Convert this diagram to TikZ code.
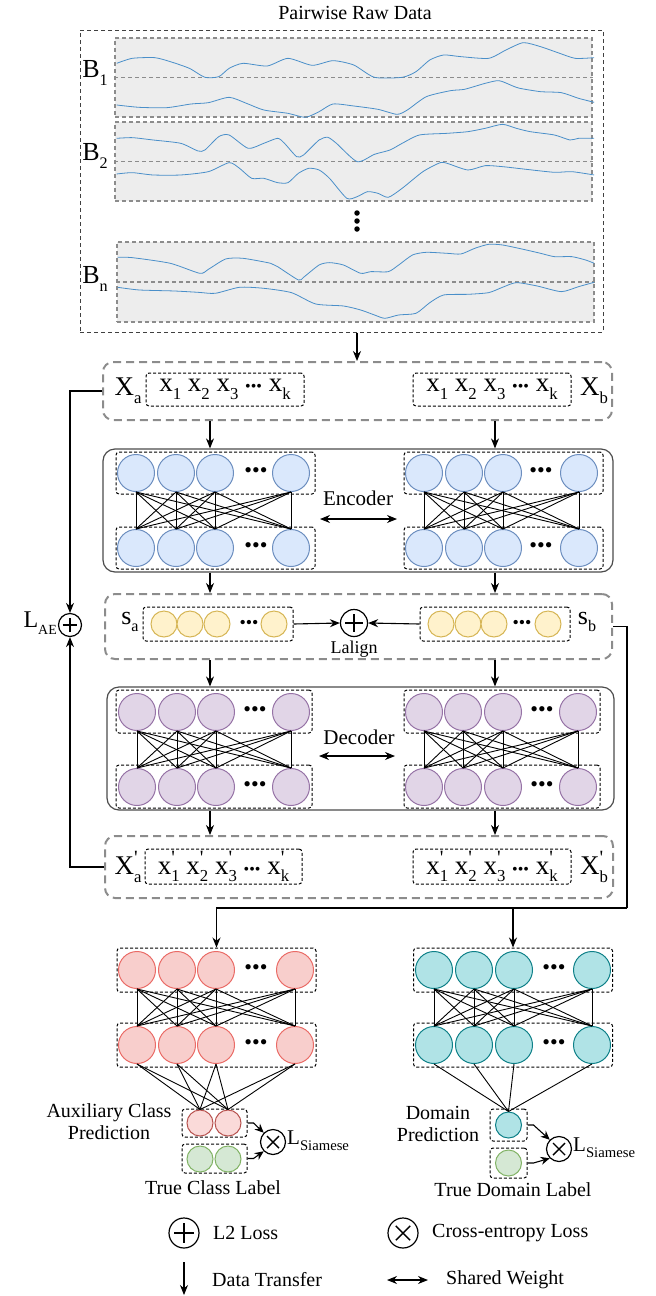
\documentclass[tikz,border=0pt]{standalone}
\usepackage{fontspec}
\setmainfont{Liberation Serif}
\usetikzlibrary{arrows.meta}
\definecolor{encfill}{HTML}{DAE8FC}
\definecolor{encline}{HTML}{6C8EBF}
\definecolor{latfill}{HTML}{FFF2CC}
\definecolor{latline}{HTML}{D6B656}
\definecolor{decfill}{HTML}{E1D5E7}
\definecolor{decline}{HTML}{9673A6}
\definecolor{clsfill}{HTML}{F8CECC}
\definecolor{clsline}{HTML}{EA6B66}
\definecolor{prdline}{HTML}{B85450}
\definecolor{domfill}{HTML}{B0E3E6}
\definecolor{domline}{HTML}{0E8088}
\definecolor{gtfill}{HTML}{D5E8D4}
\definecolor{gtline}{HTML}{82B366}
\definecolor{wavec}{HTML}{4A8FC9}
\definecolor{panel}{HTML}{EDEDED}
\newcommand\lowsub[2][0.62]{\raisebox{-0.28em}{\scalebox{#1}{#2}}}
\newcommand\primetick{\rlap{\raisebox{0.36em}{\scalebox{0.75}{\textquotesingle}}}}
\newcommand\mdots{{\fontsize{16}{16}\selectfont\textbullet\textbullet\textbullet}}
\tikzset{
  flow/.style={-{Stealth[length=10pt,width=8pt]},line width=1.1pt},
  shared/.style={{Stealth[length=10pt,width=8pt]}-{Stealth[length=10pt,width=8pt]},line width=1.1pt},
  wire/.style={line width=0.9pt},
  wave/.style={wavec,line width=0.8pt},
  rawbox/.style={draw=black!75,dash pattern=on 4pt off 3pt,line width=1pt,inner sep=0pt},
  bbox/.style={draw=black!45,fill=panel,dash pattern=on 4pt off 3pt,line width=1.2pt,inner sep=0pt},
  pairbox/.style={draw=black!45,dash pattern=on 8pt off 5pt,line width=2pt,rounded corners=10pt,inner sep=0pt},
  netbox/.style={draw=black!70,line width=1.2pt,rounded corners=12pt,inner sep=0pt},
  grp/.style={draw,dash pattern=on 3pt off 2pt,line width=1pt,rounded corners=3pt,inner sep=0pt},
  neuron/.style={circle,line width=1pt,minimum size=37pt,inner sep=0pt},
  encn/.style={neuron,fill=encfill,draw=encline},
  latn/.style={neuron,minimum size=26pt,fill=latfill,draw=latline},
  decn/.style={neuron,fill=decfill,draw=decline},
  clsn/.style={neuron,fill=clsfill,draw=clsline},
  domn/.style={neuron,fill=domfill,draw=domline},
  prdn/.style={neuron,minimum size=26pt,fill=clsfill!75!white,draw=prdline},
  dprn/.style={neuron,minimum size=26pt,fill=domfill,draw=domline},
  gtn/.style={neuron,minimum size=26pt,fill=gtfill,draw=gtline},
  dotrow/.style={font=\fontsize{22}{22}\selectfont,inner sep=0pt},
  bigtxt/.style={font=\fontsize{27}{29}\selectfont,inner sep=0pt},
  midtxt/.style={font=\fontsize{20}{22}\selectfont,inner sep=0pt,align=center},
  plusnode/.style={circle,draw,line width=1.2pt,minimum size=#1pt,inner sep=0pt,
    path picture={\draw[line width=1.4pt]
      ([xshift=-0.32*#1pt]path picture bounding box.center) -- ([xshift=0.32*#1pt]path picture bounding box.center)
      ([yshift=-0.32*#1pt]path picture bounding box.center) -- ([yshift=0.32*#1pt]path picture bounding box.center);}},
  crossnode/.style={circle,draw,line width=1.2pt,minimum size=#1pt,inner sep=0pt,
    path picture={\draw[line width=1.4pt]
      ([shift={(-0.24*#1pt,-0.24*#1pt)}]path picture bounding box.center) -- ([shift={(0.24*#1pt,0.24*#1pt)}]path picture bounding box.center)
      ([shift={(-0.24*#1pt,0.24*#1pt)}]path picture bounding box.center) -- ([shift={(0.24*#1pt,-0.24*#1pt)}]path picture bounding box.center);}}
}
\begin{document}
\begin{tikzpicture}[x=1pt,y=-1pt]
% pairwise raw data -> siamese autoencoder -> class / domain heads
\useasboundingbox (0,0) rectangle (656,1296);
\node[font=\fontsize{20}{22}\selectfont] (title) at (355,13) {Pairwise Raw Data};
\node[rawbox,minimum width=523pt,minimum height=302pt] (raw) at (341.5,181) {};
\node[bbox,minimum width=477pt,minimum height=79pt] (b1) at (353.5,77.5) {};
\node[bbox,minimum width=477pt,minimum height=79pt] (b2) at (353.5,161.5) {};
\node[bbox,minimum width=477pt,minimum height=80pt] (bn) at (355.5,282) {};
\foreach \bx in {b1,b2,bn}
  \draw[draw=black!45,dash pattern=on 4pt off 3pt,line width=1.2pt] (\bx.west) -- (\bx.east);
\node[bigtxt,font=\fontsize{26}{28}\selectfont] (lb1) at (95,73) {B\lowsub{1}};
\node[bigtxt,font=\fontsize{26}{28}\selectfont] (lb2) at (95,156) {B\lowsub{2}};
\node[bigtxt,font=\fontsize{26}{28}\selectfont] (lbn) at (95,279) {B\lowsub{n}};
\begin{scope}[shift={(70,0)},x=0.346pt,y=-0.3333pt]
\draw[wave] plot[smooth,tension=0.4] coordinates {(135,190) (180,175) (245,173) (290,185) (345,205) (390,232) (430,230) (460,205) (500,190) (570,198) (630,175) (700,196) (760,182) (820,195) (880,232) (960,232) (1000,215) (1040,180) (1080,165) (1130,170) (1210,175) (1260,150) (1310,128) (1360,140) (1410,158) (1460,175) (1515,173)};
\draw[wave] plot[smooth,tension=0.4] coordinates {(135,315) (200,322) (280,323) (350,312) (400,308) (460,292) (510,310) (560,330) (630,340) (680,352) (720,335) (760,312) (820,318) (890,328) (945,343) (975,330) (1030,290) (1100,272) (1140,268) (1200,250) (1240,242) (1280,258) (1300,265) (1360,275) (1420,278) (1470,295) (1515,307)};
\draw[wave] plot[smooth,tension=0.4] coordinates {(135,415) (180,413) (240,420) (320,430) (370,453) (390,450) (430,410) (460,405) (515,445) (560,430) (600,415) (620,430) (655,470) (675,465) (720,420) (745,412) (770,430) (830,485) (880,463) (925,450) (960,430) (1010,405) (1090,400) (1150,395) (1200,385) (1250,373) (1290,385) (1330,395) (1400,405) (1445,420) (1470,415) (1515,415)};
\draw[wave] plot[smooth,tension=0.4] coordinates {(135,522) (180,518) (240,525) (320,525) (400,515) (460,488) (490,505) (525,535) (560,535) (600,548) (630,548) (660,520) (690,505) (720,510) (750,535) (800,595) (830,590) (860,575) (890,580) (920,592) (960,565) (1020,515) (1070,488) (1090,490) (1150,510) (1200,497) (1250,500) (1310,507) (1400,517) (1450,515) (1515,525)};
\draw[wave] plot[smooth,tension=0.4] coordinates {(138,772) (180,773) (290,790) (375,820) (400,808) (450,777) (500,775) (580,790) (600,800) (660,840) (675,832) (720,795) (750,788) (790,795) (840,820) (870,815) (920,815) (950,795) (990,765) (1030,757) (1090,760) (1130,762) (1170,745) (1210,733) (1250,735) (1310,748) (1360,760) (1400,770) (1450,770) (1490,780) (1515,790)};
\draw[wave] plot[smooth,tension=0.4] coordinates {(138,862) (200,870) (300,873) (370,877) (420,880) (490,862) (560,865) (640,878) (710,912) (790,918) (840,930) (880,945) (910,955) (950,945) (1000,940) (1040,908) (1080,885) (1150,883) (1210,878) (1250,862) (1290,848) (1350,858) (1420,875) (1470,860) (1515,847)};
\end{scope}
\foreach \k/\y in {1/213,2/221,3/229}
  \node[circle,fill,inner sep=0pt,minimum size=5.5pt] (vd\k) at (357,\y) {};
\coordinate (laneA) at (210,0);
\coordinate (laneB) at (495,0);
% input pair
\node[pairbox,minimum width=509pt,minimum height=58pt] (xin) at (357.5,391) {};
\node[bigtxt] (xa) at (128,391) {X\lowsub{a}};
\node[grp,bigtxt,minimum width=158pt,minimum height=33pt] (xain) at (225,389.5) {x\lowsub{1} x\lowsub{2} x\lowsub{3} \mdots{} x\lowsub{k}};
\node[grp,bigtxt,minimum width=158pt,minimum height=33pt] (xbin) at (492,389.5) {x\lowsub{1} x\lowsub{2} x\lowsub{3} \mdots{} x\lowsub{k}};
\node[bigtxt] (xb) at (594,391) {X\lowsub{b}};
\draw[flow] (raw.south -| vd2) -- (xin.north -| vd2);
% encoder
\node[netbox,minimum width=510pt,minimum height=123pt] (enc) at (358,510.5) {};
\foreach \g/\cx/\cy in {eau/215.5/473,ead/215.5/548,ebu/503.5/473,ebd/503.5/548}
  \node[grp,minimum width=199pt,minimum height=42pt] (\g) at (\cx,\cy) {};
\foreach \g/\y in {eau/473,ead/548} {
  \foreach \i/\x in {1/136,2/176,3/215,4/291} \node[encn] (\g\i) at (\x,\y) {};
  \node[dotrow] (\g d) at (256,\y) {\textbullet\textbullet\textbullet};
}
\foreach \g/\y in {ebu/473,ebd/548} {
  \foreach \i/\x in {1/424,2/464,3/503,4/579} \node[encn] (\g\i) at (\x,\y) {};
  \node[dotrow] (\g d) at (541,\y) {\textbullet\textbullet\textbullet};
}
\foreach \i in {1,...,4} \foreach \j in {1,...,4} {
  \draw[wire] (eau\i.south) -- (ead\j.north);
  \draw[wire] (ebu\i.south) -- (ebd\j.north);
}
\node[midtxt,font=\fontsize{21}{23}\selectfont] (enclbl) at (358,498) {Encoder};
\coordinate (encL) at (320,519);
\coordinate (encR) at (397,519);
\draw[shared] (encL) -- (encR);
\draw[flow] (xin.south -| laneA) -- (enc.north -| laneA);
\draw[flow] (xin.south -| laneB) -- (enc.north -| laneB);
% latent pair
\node[pairbox,minimum width=507pt,minimum height=65pt] (sbx) at (358.5,626.5) {};
\node[bigtxt,font=\fontsize{26}{28}\selectfont] (sa) at (130,622) {s\lowsub{a}};
\node[grp,minimum width=150pt,minimum height=34pt] (sain) at (218,624) {};
\foreach \i/\x in {1/164,2/190,3/217,4/274} \node[latn] (sa\i) at (\x,624) {};
\node[dotrow,font=\fontsize{18}{18}\selectfont] (sad) at (249,624) {\textbullet\textbullet\textbullet};
\node[grp,minimum width=150pt,minimum height=34pt] (sbin) at (495,624) {};
\foreach \i/\x in {1/441,2/468,3/494,4/548} \node[latn] (sb\i) at (\x,624) {};
\node[dotrow,font=\fontsize{18}{18}\selectfont] (sbd) at (522,624) {\textbullet\textbullet\textbullet};
\node[bigtxt,font=\fontsize{26}{28}\selectfont] (sb) at (587,622) {s\lowsub{b}};
\node[plusnode=27] (align) at (354,623) {};
\node[midtxt,font=\fontsize{18}{20}\selectfont] (alignlbl) at (354,649) {Lalign};
\draw[flow] (sain.east) -- (align.west);
\draw[flow] (sbin.west) -- (align.east);
\draw[flow] (enc.south -| laneA) -- (sbx.north -| laneA);
\draw[flow] (enc.south -| laneB) -- (sbx.north -| laneB);
% decoder
\node[netbox,minimum width=507pt,minimum height=123pt] (dec) at (360.5,748.5) {};
\foreach \g/\cx/\cy in {dau/214/711.5,dad/214/786.5,dbu/502/711.5,dbd/502/786.5}
  \node[grp,minimum width=196pt,minimum height=43pt] (\g) at (\cx,\cy) {};
\foreach \g/\y in {dau/712,dad/787} {
  \foreach \i/\x in {1/137,2/177,3/216,4/291} \node[decn] (\g\i) at (\x,\y) {};
  \node[dotrow] (\g d) at (255,\y) {\textbullet\textbullet\textbullet};
}
\foreach \g/\y in {dbu/712,dbd/787} {
  \foreach \i/\x in {1/424,2/463,3/503,4/578} \node[decn] (\g\i) at (\x,\y) {};
  \node[dotrow] (\g d) at (542,\y) {\textbullet\textbullet\textbullet};
}
\foreach \i in {1,...,4} \foreach \j in {1,...,4} {
  \draw[wire] (dau\i.south) -- (dad\j.north);
  \draw[wire] (dbu\i.south) -- (dbd\j.north);
}
\node[midtxt,font=\fontsize{21}{23}\selectfont] (declbl) at (359,737) {Decoder};
\coordinate (decL) at (319,756);
\coordinate (decR) at (395,756);
\draw[shared] (decL) -- (decR);
\draw[flow] (sbx.south -| laneA) -- (dec.north -| laneA);
\draw[flow] (sbx.south -| laneB) -- (dec.north -| laneB);
% reconstructed pair
\node[pairbox,minimum width=508pt,minimum height=62pt] (xout) at (359,867) {};
\node[bigtxt] (xpa) at (128,867) {X\primetick\lowsub{a}};
\node[grp,bigtxt,minimum width=157pt,minimum height=35pt] (xpain) at (223.5,866.5) {x\primetick\lowsub{1} x\primetick\lowsub{2} x\primetick\lowsub{3} \mdots{} x\primetick\lowsub{k}};
\node[grp,bigtxt,minimum width=158pt,minimum height=35pt] (xpbin) at (492,866.5) {x\primetick\lowsub{1} x\primetick\lowsub{2} x\primetick\lowsub{3} \mdots{} x\primetick\lowsub{k}};
\node[bigtxt] (xpb) at (594,867) {X\primetick\lowsub{b}};
\draw[flow] (dec.south -| laneA) -- (xout.north -| laneA);
\draw[flow] (dec.south -| laneB) -- (xout.north -| laneB);
% reconstruction loss
\node[plusnode=23] (lae) at (70,625) {};
\node[font=\fontsize{24}{26}\selectfont,inner sep=0pt,anchor=east] (laelbl) at (57,623) {L\lowsub[0.58]{AE}};
\draw[flow] (xin.west) -| (lae.north);
\draw[flow] (xout.west) -| (lae.south);
% class and domain heads
\foreach \g/\cx/\cy in {rau/216.5/970,rad/216.5/1045,tau/513/970,tad/513/1045}
  \node[grp,minimum width=199pt,minimum height=44pt] (\g) at (\cx,\cy) {};
\foreach \g/\y in {rau/970,rad/1045} {
  \foreach \i/\x in {1/137,2/177,3/216,4/295} \node[clsn] (\g\i) at (\x,\y) {};
  \node[dotrow] (\g d) at (256,\y) {\textbullet\textbullet\textbullet};
}
\foreach \g/\y in {tau/970,tad/1045} {
  \foreach \i/\x in {1/434,2/474,3/514,4/592} \node[domn] (\g\i) at (\x,\y) {};
  \node[dotrow] (\g d) at (554,\y) {\textbullet\textbullet\textbullet};
}
\foreach \i in {1,...,4} \foreach \j in {1,...,4} {
  \draw[wire] (rau\i.south) -- (rad\j.north);
  \draw[wire] (tau\i.south) -- (tad\j.north);
}
\coordinate (bend) at (627,908);
\draw[line width=1.1pt] (sbx.east) -| (bend);
\draw[flow] (bend) -| (rau.north);
\draw[flow] (bend) -| (tau.north);
\node[grp,minimum width=65pt,minimum height=28pt] (rp) at (214.5,1123) {};
\node[prdn] (rp1) at (200,1123) {};
\node[prdn] (rp2) at (228,1123) {};
\node[grp,minimum width=65pt,minimum height=29pt] (tc) at (214.5,1158.5) {};
\node[gtn] (tc1) at (200,1159) {};
\node[gtn] (tc2) at (228,1159) {};
\foreach \i in {1,...,4} \foreach \j in {1,2}
  \draw[wire] (rad\i.south) -- (rp\j.north);
\node[crossnode=25] (ce1) at (273,1142) {};
\draw[-{Stealth[length=9pt,width=8pt]},line width=1.1pt] (rp.east) -- ++(6,0) -- (ce1.north west);
\draw[-{Stealth[length=9pt,width=8pt]},line width=1.1pt] (tc.east) -- ++(6,0) -- (ce1.south west);
\node[font=\fontsize{21}{23}\selectfont,inner sep=0pt,anchor=west] (ls1) at (287,1141) {L\lowsub[0.7]{Siamese}};
\node[midtxt] (auxlbl) at (109,1122) {Auxiliary Class\\Prediction};
\node[midtxt] (tcl) at (213,1188) {True Class Label};
\node[grp,minimum width=37pt,minimum height=32pt] (dp) at (508.5,1125) {};
\node[dprn] (dp1) at (508.5,1125) {};
\node[grp,minimum width=37pt,minimum height=30pt] (td) at (508.5,1163) {};
\node[gtn] (td1) at (508.5,1163) {};
\foreach \i in {1,...,4}
  \draw[wire] (tad\i.south) -- (dp1.north);
\node[crossnode=25] (ce2) at (559,1149) {};
\draw[-{Stealth[length=9pt,width=8pt]},line width=1.1pt] (dp.east) -- ++(6,0) -- (ce2.north west);
\draw[-{Stealth[length=9pt,width=8pt]},line width=1.1pt] (td.east) -- ++(6,0) -- (ce2.south west);
\node[font=\fontsize{21}{23}\selectfont,inner sep=0pt,anchor=west] (ls2) at (573,1148) {L\lowsub[0.7]{Siamese}};
\node[midtxt] (dplbl) at (438,1124) {Domain\\Prediction};
\node[midtxt] (tdl) at (513,1190) {True Domain Label};
% legend
\node[plusnode=30] (lgplus) at (184,1233) {};
\node[midtxt,anchor=west] (lgl2) at (213,1233) {L2 Loss};
\node[crossnode=30] (lgce) at (403,1233) {};
\node[midtxt,anchor=west] (lgcel) at (432,1233) {Cross-entropy Loss};
\coordinate (lgdt1) at (184,1262);
\coordinate (lgdt2) at (184,1295);
\draw[flow] (lgdt1) -- (lgdt2);
\node[midtxt,anchor=west] (lgdt) at (212,1280) {Data Transfer};
\coordinate (lgsw1) at (387,1280);
\coordinate (lgsw2) at (428,1280);
\draw[shared] (lgsw1) -- (lgsw2);
\node[midtxt,anchor=west] (lgsw) at (446,1280) {Shared Weight};
\end{tikzpicture}
\end{document}
